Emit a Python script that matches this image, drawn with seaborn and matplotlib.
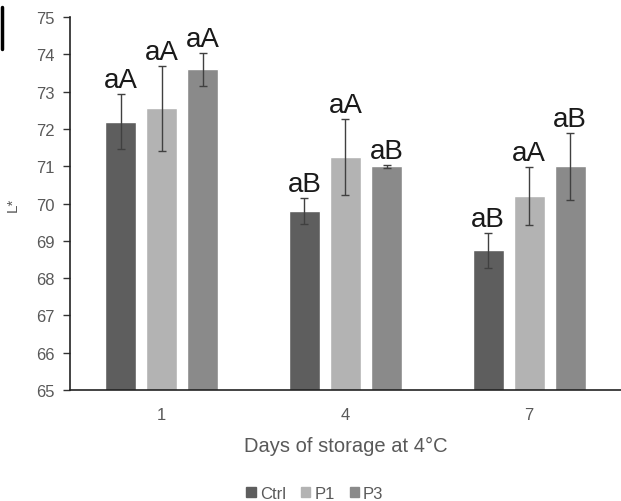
import numpy as np
import pandas as pd
import matplotlib
matplotlib.use("Agg")
import matplotlib.pyplot as plt
import seaborn as sns

days = ["1", "4", "7"]
treatments = ["Ctrl", "P1", "P3"]
ctrl_vals = [72.2, 69.8, 68.75]
p1_vals = [72.55, 71.25, 70.2]
p3_vals = [73.6, 71.0, 71.0]
ctrl_err = [0.75, 0.35, 0.47]
p1_err = [1.15, 1.03, 0.78]
p3_err = [0.45, 0.04, 0.9]
ctrl_lab = ["aA", "aB", "aB"]
p1_lab = ["aA", "aA", "aA"]
p3_lab = ["aA", "aB", "aB"]

colors = ["#5e5e5e", "#b3b3b3", "#8a8a8a"]

rows = []
for t, vals, errs, labs in zip(treatments, [ctrl_vals, p1_vals, p3_vals],
                               [ctrl_err, p1_err, p3_err], [ctrl_lab, p1_lab, p3_lab]):
    for d, v, e, l in zip(days, vals, errs, labs):
        rows.append({"Day": d, "Treatment": t, "L": v, "err": e, "lab": l})
df = pd.DataFrame(rows)

sns.set_style("white")
plt.rcParams["font.family"] = ["Liberation Sans", "DejaVu Sans"]

fig = plt.figure(figsize=(6.21, 5.02), dpi=100)
ax = fig.add_axes([0.1127, 0.221, 0.8873, 0.743])

sns.barplot(data=df, x="Day", y="L", hue="Treatment", order=days,
            hue_order=treatments, palette=colors, errorbar=None,
            width=0.67, gap=0.24, ax=ax, legend=False, saturation=1)

for cont, t in zip(ax.containers, treatments):
    sub = df[df["Treatment"] == t].set_index("Day").loc[days]
    xs = [b.get_x() + b.get_width() / 2 for b in cont]
    ax.errorbar(xs, sub["L"].values, yerr=sub["err"].values, fmt="none",
                ecolor="#404040", elinewidth=1.0, capsize=3, capthick=1.0, zorder=5)
    for x, v, e, l in zip(xs, sub["L"].values, sub["err"].values, sub["lab"].values):
        ax.text(x, v + e + 0.18, l, ha="center", va="baseline", fontsize=20,
                color="#1a1a1a")

ax.set_ylim(65, 75)
ax.set_xlim(-0.5, 2.5)
ax.set_yticks(np.arange(65, 76, 1))
ax.set_ylabel("L*", fontsize=11, color="#595959", labelpad=12)
ax.set_xlabel("Days of storage at 4°C", fontsize=14.5, color="#595959", labelpad=10)
ax.tick_params(axis="y", which="major", left=True, length=5, width=1,
               color="#333333", labelsize=12, labelcolor="#595959", pad=6)
ax.tick_params(axis="x", bottom=False, labelsize=12, labelcolor="#595959", pad=9)
for s in ["top", "right"]:
    ax.spines[s].set_visible(False)
for s in ["left", "bottom"]:
    ax.spines[s].set_color("#222222")
    ax.spines[s].set_linewidth(1.2)

handles = [plt.Rectangle((0, 0), 1, 1, color=c) for c in colors]
fig.legend(handles, treatments, loc="lower center", bbox_to_anchor=(0.507, -0.03),
           ncol=3, frameon=False, fontsize=12, labelcolor="#595959",
           handlelength=0.55, handleheight=0.55, handletextpad=0.25, columnspacing=0.9)

fig.add_artist(plt.Line2D([0.003, 0.003], [0.9, 0.985], color="black", linewidth=2.5,
                          transform=fig.transFigure))

fig.savefig("out.png", dpi=100)
